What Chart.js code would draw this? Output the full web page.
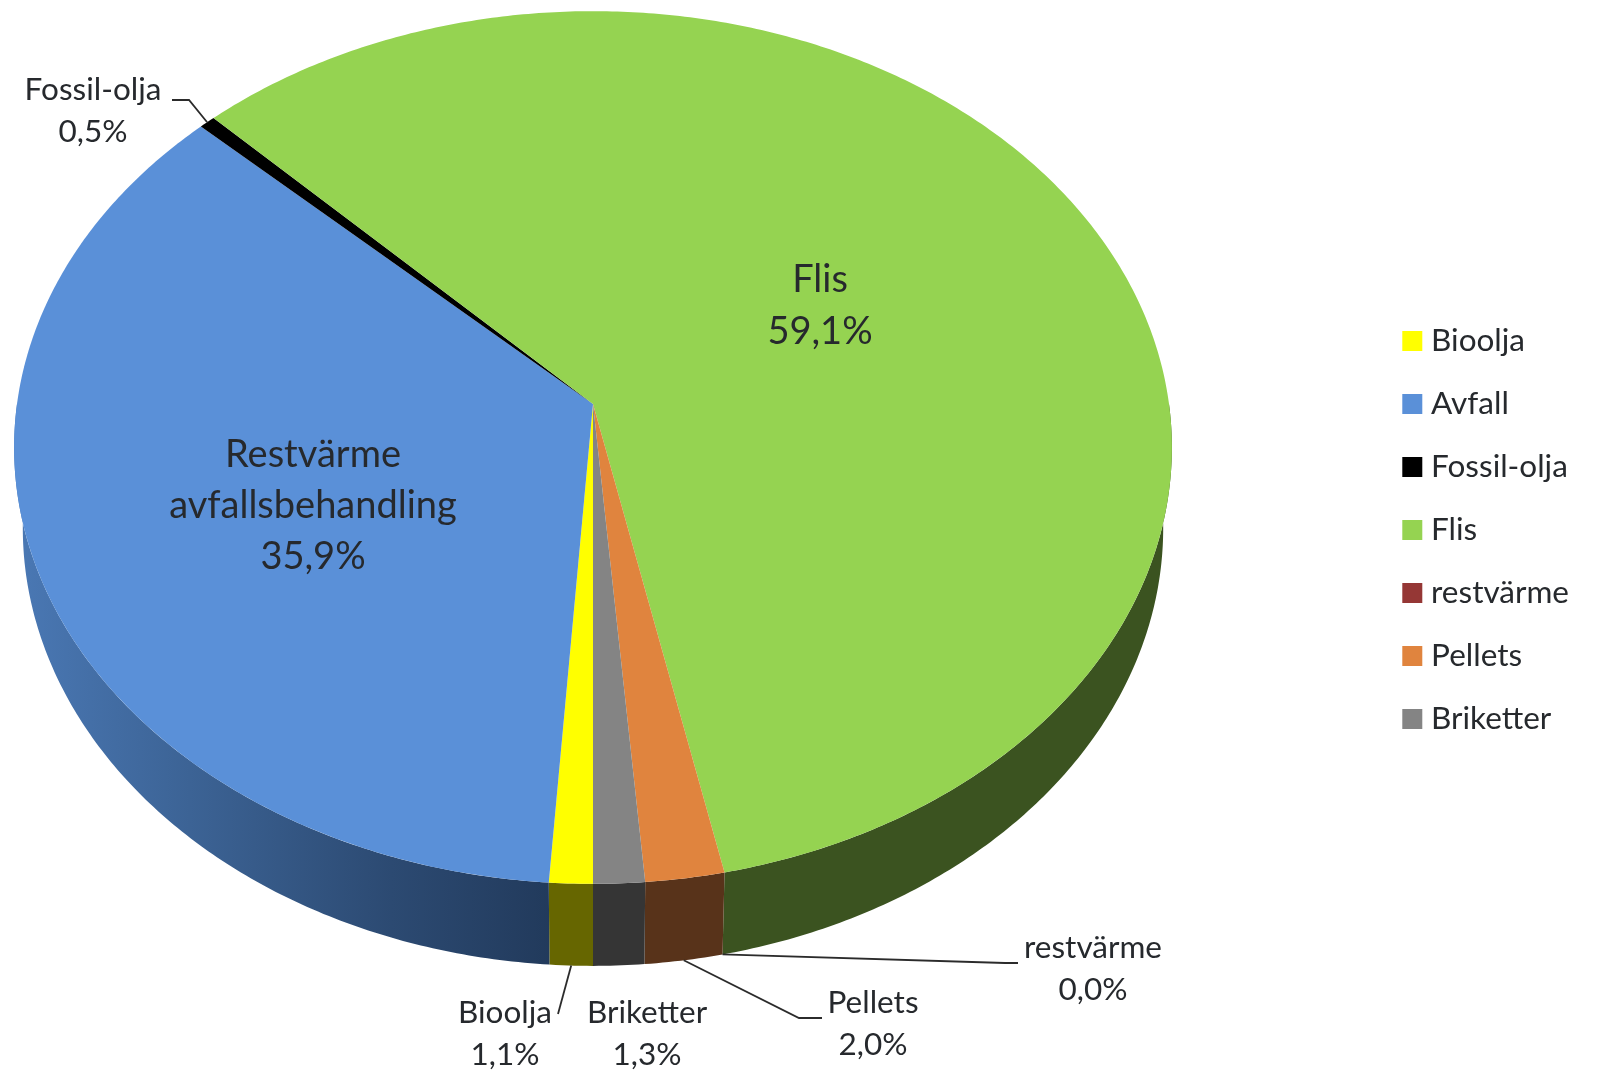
<!DOCTYPE html>
<html>
<head>
<meta charset="utf-8">
<style>html,body{margin:0;padding:0;background:#fff}canvas{display:block;filter:blur(0.5px)}</style>
<script src="https://cdn.jsdelivr.net/npm/chart.js@4"></script>
</head>
<body>
<canvas id="c" width="1601" height="1074"></canvas>
<script>
const categories = ['Bioolja','Avfall','Fossil-olja','Flis','restvärme','Pellets','Briketter'];
const shares = [1.1,35.9,0.5,59.1,0.0,2.0,1.3];
const sliceLabels = [['Bioolja'],['Restvärme','avfallsbehandling'],['Fossil-olja'],['Flis'],['restvärme'],['Pellets'],['Briketter']];
const topColours = ['#ffff00','#5a90d8','#000000','#95d351','#953735','#e0843e','#848484'];
const sideColours = ['#666600',null,'#000000','#3b5320','#3c1615','#58331a','#353535'];

const FONT = 'Lato, Carlito, Calibri, sans-serif';
const labelLayout = [
  {x:505,y:1013,size:31.5,lead:[[558,1014]]},
  {x:313,y:455,size:38,lh:51},
  {x:93,y:90,size:31.5,lead:[[189,100],[172,100]]},
  {x:820,y:280,size:38,lh:52},
  {x:1093,y:948,size:31.5,lead:[[1005,963],[1018,963]]},
  {x:873,y:1003,size:31.5,lead:[[799,1018],[822,1018]]},
  {x:647,y:1013,size:31.5}
];
const camera = {cx:593,dy:-126,ax:4/3,k:0.0997,depth:0.186,shrink:0.985};

function project(el,a,down){
  const u=Math.cos(a),v=Math.sin(a),R=el.outerRadius,w=1-camera.k*v,s=down?camera.shrink:1;
  return {x:camera.cx+s*R*camera.ax*u/w, y:el.y+camera.dy+(s*R*v+(down?R*camera.depth:0))/w};
}
function rimPath(ctx,el,a0,a1,down,move){
  const n=Math.max(2,Math.ceil(Math.abs(a1-a0)/0.01));
  for(let i=0;i<=n;i++){
    const p=project(el,a0+(a1-a0)*i/n,down);
    if(i===0&&move)ctx.moveTo(p.x,p.y);else ctx.lineTo(p.x,p.y);
  }
}
const pie3d={
  id:'pie3d',
  beforeDatasetsDraw(chart){
    const ctx=chart.ctx,arcs=chart.getDatasetMeta(0).data;
    ctx.save();
    arcs.forEach((el,i)=>{
      if(el.endAngle-el.startAngle<=0)return;
      [[0,Math.PI],[2*Math.PI,3*Math.PI]].forEach(([l,h])=>{
        const lo=Math.max(el.startAngle,l),hi=Math.min(el.endAngle,h);
        if(hi<=lo)return;
        ctx.beginPath();
        rimPath(ctx,el,lo,hi,false,true);
        rimPath(ctx,el,hi,lo,true,false);
        ctx.closePath();
        if(sideColours[i]){ctx.fillStyle=sideColours[i];}
        else{
          const pl=project(el,Math.PI,false).x,pr=project(el,Math.PI/2,false).x;
          const g=ctx.createLinearGradient(pl,0,pr,0);
          g.addColorStop(0,'#4a78b4');g.addColorStop(0.3,'#3c6395');g.addColorStop(0.65,'#2c4a72');g.addColorStop(1,'#1f3656');
          ctx.fillStyle=g;
        }
        ctx.fill();
      });
    });
    arcs.forEach((el,i)=>{
      if(el.endAngle-el.startAngle<=0)return;
      ctx.beginPath();ctx.moveTo(camera.cx,el.y+camera.dy);
      rimPath(ctx,el,el.startAngle,el.endAngle,false,false);
      ctx.closePath();
      ctx.fillStyle=topColours[i];ctx.fill();
    });
    ctx.strokeStyle='#2b2b2b';ctx.lineWidth=1.8;
    arcs.forEach((el,i)=>{
      const L=labelLayout[i];if(!L.lead)return;
      const mid=(el.startAngle+el.endAngle)/2,s=project(el,mid,Math.sin(mid)>0);
      ctx.beginPath();ctx.moveTo(s.x,s.y);L.lead.forEach(p=>ctx.lineTo(p[0],p[1]));ctx.stroke();
    });
    ctx.fillStyle='#26292d';ctx.textAlign='center';ctx.textBaseline='middle';
    arcs.forEach((el,i)=>{
      const L=labelLayout[i],lh=L.lh||42;
      ctx.font=L.size+'px '+FONT;
      const lines=[...sliceLabels[i],shares[i].toFixed(1).replace('.',',')+'%'];
      lines.forEach((t,j)=>ctx.fillText(t,L.x,L.y+j*lh));
    });
    ctx.restore();
    return false;
  }
};
new Chart(document.getElementById('c'),{
  type:'pie',
  data:{labels:categories,datasets:[{data:shares,backgroundColor:topColours,borderWidth:0,radius:432}]},
  options:{
    responsive:false,animation:false,rotation:180,
    layout:{padding:{bottom:14,right:22}},
    plugins:{
      tooltip:{enabled:false},
      legend:{display:true,position:'right',
        labels:{usePointStyle:true,pointStyle:'rect',boxWidth:6,boxHeight:20,padding:31.5,color:'#26292d',font:{family:FONT,size:31.5}}}
    }
  },
  plugins:[pie3d]
});
</script>
</body>
</html>
